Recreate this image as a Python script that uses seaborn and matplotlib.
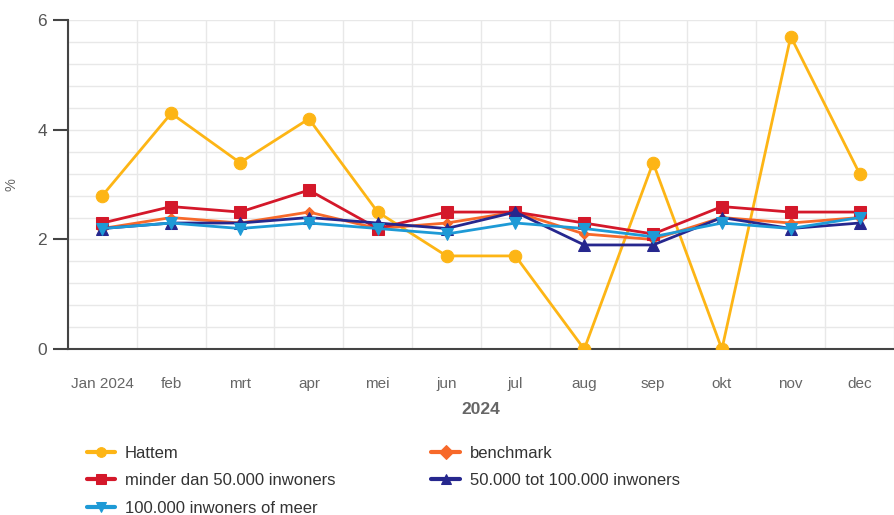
import numpy as np
import pandas as pd
import seaborn as sns
import matplotlib.pyplot as plt
from matplotlib.ticker import MultipleLocator

# Data
months = ['Jan 2024', 'feb', 'mrt', 'apr', 'mei', 'jun', 'jul', 'aug', 'sep', 'okt', 'nov', 'dec']
hattem = [2.8, 4.3, 3.4, 4.2, 2.5, 1.7, 1.7, 0.0, 3.4, 0.0, 5.7, 3.2]
benchmark = [2.2, 2.4, 2.3, 2.5, 2.2, 2.3, 2.5, 2.1, 2.0, 2.4, 2.3, 2.4]
minder_50k = [2.3, 2.6, 2.5, 2.9, 2.2, 2.5, 2.5, 2.3, 2.1, 2.6, 2.5, 2.5]
tussen_50k_100k = [2.2, 2.3, 2.3, 2.4, 2.3, 2.2, 2.5, 1.9, 1.9, 2.4, 2.2, 2.3]
meer_100k = [2.2, 2.3, 2.2, 2.3, 2.2, 2.1, 2.3, 2.2, 2.05, 2.3, 2.2, 2.4]

series = {
    'Hattem': hattem,
    'benchmark': benchmark,
    'minder dan 50.000 inwoners': minder_50k,
    '50.000 tot 100.000 inwoners': tussen_50k_100k,
    '100.000 inwoners of meer': meer_100k,
}
colors = {
    'Hattem': '#FDB515',
    'benchmark': '#F7692A',
    'minder dan 50.000 inwoners': '#D4182A',
    '50.000 tot 100.000 inwoners': '#26278E',
    '100.000 inwoners of meer': '#1E9AD6',
}
markers = {
    'Hattem': 'o',
    'benchmark': 'D',
    'minder dan 50.000 inwoners': 's',
    '50.000 tot 100.000 inwoners': '^',
    '100.000 inwoners of meer': 'v',
}
msizes = {'Hattem': 9, 'benchmark': 5, 'minder dan 50.000 inwoners': 8,
          '50.000 tot 100.000 inwoners': 8, '100.000 inwoners of meer': 8}

rows = []
for name, vals in series.items():
    for i, v in enumerate(vals):
        rows.append({'pos': i, 'value': v, 'serie': name})
df = pd.DataFrame(rows)

sns.set_theme(style='white')
plt.rcParams['font.family'] = ['Liberation Sans', 'DejaVu Sans']

fig = plt.figure(figsize=(8.94, 5.15), dpi=100)
ax = fig.add_axes([0.076, 0.322, 0.924, 0.639])

draw_order = ['Hattem', 'benchmark', 'minder dan 50.000 inwoners',
              '50.000 tot 100.000 inwoners', '100.000 inwoners of meer']
for name in draw_order:
    sub = df[df['serie'] == name]
    sns.lineplot(data=sub, x='pos', y='value', ax=ax, color=colors[name],
                 marker=markers[name], markersize=msizes[name],
                 markeredgecolor=colors[name], linewidth=2, label=name,
                 legend=False, zorder=3)

ax.set_xlim(-0.5, 11.4)
ax.set_ylim(0, 6)
ax.set_xticks(range(len(months)))
ax.set_xticklabels(months)
ax.set_xticks(np.arange(-0.5, 12, 1), minor=True)
ax.yaxis.set_major_locator(MultipleLocator(2))
ax.yaxis.set_minor_locator(MultipleLocator(0.4))

ax.grid(which='minor', axis='both', color='#e8e8e8', linewidth=1)
ax.grid(which='major', axis='y', color='#e8e8e8', linewidth=1)
ax.set_axisbelow(True)

for s in ['top', 'right']:
    ax.spines[s].set_visible(False)
ax.spines['left'].set_color('#444444')
ax.spines['bottom'].set_color('#444444')
ax.spines['left'].set_linewidth(1.5)
ax.spines['bottom'].set_linewidth(1.5)

ax.tick_params(axis='y', which='major', left=True, length=11, width=1.5,
               color='#444444', labelsize=12.5, labelcolor='#555555', pad=4)
ax.tick_params(axis='y', which='minor', left=False)
ax.tick_params(axis='x', which='both', bottom=False, labelsize=11,
               labelcolor='#666666', pad=14)

ax.set_xlabel('2024', fontsize=12.5, fontweight='bold', color='#666666', labelpad=8)
ax.set_ylabel('%', fontsize=10.5, color='#666666', labelpad=14)

# legend ordered so that rows read like the reference
handles, labels = ax.get_legend_handles_labels()
lookup = dict(zip(labels, handles))
leg_order = ['Hattem', 'minder dan 50.000 inwoners', '100.000 inwoners of meer',
             'benchmark', '50.000 tot 100.000 inwoners']
leg = fig.legend([lookup[n] for n in leg_order], leg_order, ncol=2,
                 loc='upper left', bbox_to_anchor=(0.0895, 0.147),
                 frameon=False, fontsize=12, handlelength=1.7,
                 columnspacing=5.75, labelspacing=0.74, handletextpad=0.6,
                 borderaxespad=0)
for t in leg.get_texts():
    t.set_color('#333333')
for h in leg.legend_handles:
    h.set_markersize(7)
    h.set_linewidth(3)

fig.savefig('out.png', dpi=100)
